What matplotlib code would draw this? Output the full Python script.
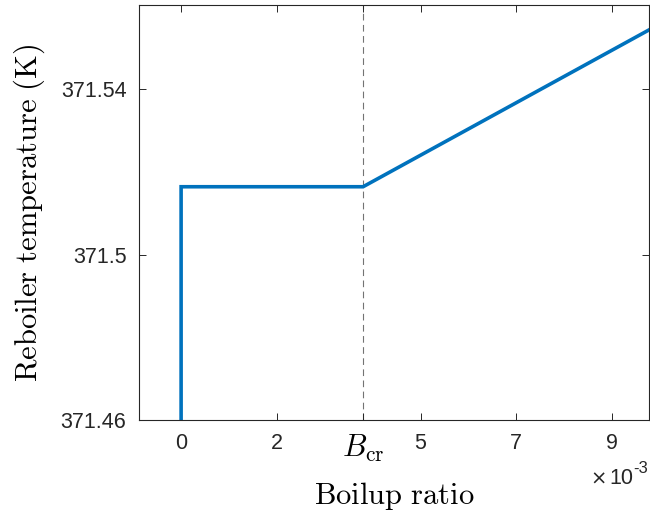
import numpy as np
import matplotlib.pyplot as plt

plt.rcParams['font.family'] = ['Liberation Sans', 'DejaVu Sans']
plt.rcParams['mathtext.fontset'] = 'cm'

# reboiler temperature response vs boilup ratio
boilup = [0.0, 0.0, 0.0038, 0.0098]
temperature = [371.455, 371.5164, 371.5164, 371.5545]
b_cr = 0.0038

xtick_vals = [0.0, 0.002, b_cr, 0.005, 0.007, 0.009]
xtick_labels = ['0', '2', r'$B_{\mathrm{cr}}$', '5', '7', '9']
ytick_vals = [371.46, 371.50, 371.54]
ytick_labels = ['371.46', '371.5', '371.54']

fig = plt.figure(figsize=(6.5, 5.16), dpi=100)
ax = fig.add_axes([0.2138, 0.186, 0.7846, 0.804])

ax.axvline(b_cr, color='0.45', linestyle=(0, (6, 4)), linewidth=0.8, zorder=1)
ax.plot(boilup, temperature, color='#0072BD', linewidth=2.6, zorder=2,
        solid_joinstyle='miter')

ax.set_xlim(-0.00088, 0.00977)
ax.set_ylim(371.46, 371.5603)

ax.set_xticks(xtick_vals)
ax.set_xticklabels(xtick_labels)
ax.set_yticks(ytick_vals)
ax.set_yticklabels(ytick_labels)

ax.tick_params(direction='in', length=5, width=0.7, colors='#262626',
               labelsize=15.5, top=True, right=True)
ax.tick_params(axis='x', pad=9)
ax.tick_params(axis='y', pad=9)
for lbl in ax.get_xticklabels():
    if 'B' in lbl.get_text():
        lbl.set_fontsize(22)
        lbl.set_color('black')
for s in ax.spines.values():
    s.set_color('#262626')
    s.set_linewidth(0.8)

# exponent marker under the right end of the x axis
ax.text(0.918, -0.142, '\u00d7', transform=ax.transAxes, family='DejaVu Sans',
        ha='right', va='center', fontsize=14, color='#262626')
ax.text(0.9686, -0.141, '10', transform=ax.transAxes,
        ha='right', va='center', fontsize=15.5, color='#262626')
ax.text(0.9686, -0.118, '-3', transform=ax.transAxes,
        ha='left', va='center', fontsize=12, color='#262626')

ax.set_xlabel(r'$\mathrm{Boilup\ ratio}$', fontsize=22, labelpad=12)
ax.set_ylabel(r'$\mathrm{Reboiler\ temperature\ (K)}$', fontsize=22, labelpad=10)

fig.savefig('out.png', dpi=100)
